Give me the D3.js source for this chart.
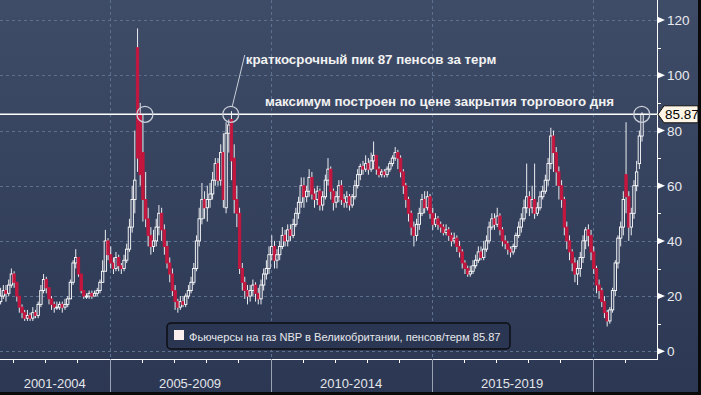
<!DOCTYPE html>
<html>
<head>
<meta charset="utf-8">
<script src="https://cdn.jsdelivr.net/npm/d3@7"></script>
<style>
body { margin: 0; background: #2c3955; }
svg text { font-family: "Liberation Sans", Arial, sans-serif; }
</style>
</head>
<body>
<div id="chart"></div>
<script>
// monthly candles, Aug 2001 .. Jul 2021 (pence/therm)
var firstMonth = new Date(2001, 7, 15);

var opens = [
  18, 20, 22, 21, 24,
  28, 25, 20, 16, 14, 12, 13, 12, 14, 13, 17, 22,
  26, 23, 19, 17, 16, 16, 17, 16, 17, 19, 25, 32,
  34, 28, 22, 20, 20, 21, 20, 21, 22, 25, 29, 40,
  35, 32, 30, 34, 31, 30, 33, 37, 45, 55, 110, 86,
  72, 55, 48, 42, 38, 40, 45, 50, 44, 38, 32, 28,
  22, 18, 16, 18, 17, 20, 22, 25, 30, 40, 48, 55,
  52, 55, 57, 62, 68, 62, 72, 52, 79, 84, 70, 55,
  50, 30, 25, 22, 20, 22, 24, 21, 19, 24, 28, 30,
  35, 38, 33, 35, 38, 42, 40, 44, 42, 46, 50, 54,
  60, 56, 58, 63, 57, 55, 58, 53, 56, 62, 66, 58,
  54, 56, 60, 55, 54, 56, 53, 56, 60, 64, 67, 66,
  68, 66, 69, 71, 66, 64, 65, 64, 66, 68, 70, 72,
  70, 65, 60, 55, 50, 45, 42, 46, 50, 55, 52, 56,
  50, 46, 48, 46, 45, 43, 44, 42, 40, 41, 38, 36,
  32, 30, 28, 29, 31, 33, 36, 34, 37, 40, 45, 48,
  46, 49, 44, 40, 39, 37, 36, 38, 42, 45, 48, 52,
  56, 52, 55, 50, 52, 56, 58, 62, 68, 78, 72, 65,
  60, 55, 45, 40, 36, 32, 28, 30, 34, 40, 44, 42,
  36, 30, 24, 22, 18, 14, 11, 15, 22, 32, 41, 45,
  64, 56, 45, 50, 60, 68, 78
];
var highs = [
  23, 24, 24, 26, 30,
  29, 25, 20, 17, 15, 15, 14, 16, 15, 18, 24, 28,
  27, 23, 20, 18, 18, 18, 18, 19, 20, 26, 33, 37,
  34, 28, 22, 21, 22, 22, 22, 23, 26, 33, 44, 41,
  38, 34, 36, 35, 32, 35, 39, 48, 60, 80, 117, 90,
  86, 65, 52, 45, 44, 48, 53, 52, 46, 40, 34, 30,
  24, 19, 20, 20, 21, 24, 27, 32, 42, 52, 61, 58,
  60, 61, 65, 70, 70, 75, 79, 83, 84, 87, 75, 60,
  52, 32, 27, 24, 24, 26, 25, 23, 26, 30, 33, 38,
  42, 40, 37, 40, 45, 44, 46, 46, 48, 52, 56, 63,
  63, 60, 66, 65, 59, 60, 59, 58, 64, 70, 67, 59,
  58, 62, 62, 57, 58, 57, 57, 62, 66, 68, 69, 71,
  70, 72, 76, 71, 67, 66, 66, 67, 69, 71, 74, 73,
  71, 66, 61, 56, 51, 47, 48, 52, 57, 58, 58, 57,
  52, 50, 49, 47, 46, 46, 45, 43, 43, 42, 40, 37,
  33, 31, 31, 33, 35, 38, 38, 40, 42, 47, 50, 50,
  52, 50, 45, 42, 40, 38, 39, 43, 47, 50, 55, 68,
  58, 60, 68, 54, 58, 60, 64, 70, 81, 80, 74, 67,
  62, 56, 47, 42, 37, 34, 33, 36, 42, 45, 46, 44,
  38, 31, 26, 23, 20, 15, 16, 23, 33, 42, 47, 58,
  83, 58, 52, 62, 69, 80, 86.6
];
var lows = [
  17, 19, 18, 20, 23,
  23, 18, 14, 12, 11, 11, 11, 11, 12, 12, 16, 21,
  21, 17, 15, 14, 15, 15, 14, 15, 16, 19, 24, 30,
  27, 21, 19, 19, 19, 19, 20, 20, 21, 25, 30, 33,
  30, 28, 29, 29, 28, 29, 32, 36, 43, 50, 65, 60,
  47, 45, 38, 35, 36, 38, 42, 40, 35, 30, 25, 20,
  15, 14, 15, 16, 16, 19, 21, 24, 29, 38, 46, 48,
  47, 52, 55, 60, 60, 60, 52, 50, 72, 62, 50, 45,
  28, 22, 19, 17, 18, 20, 18, 17, 17, 22, 26, 28,
  33, 30, 30, 33, 37, 38, 38, 40, 41, 45, 48, 52,
  52, 54, 56, 55, 52, 53, 51, 51, 55, 60, 55, 51,
  52, 54, 53, 52, 52, 51, 52, 55, 59, 62, 64, 65,
  64, 65, 66, 64, 63, 63, 63, 63, 65, 67, 69, 66,
  63, 57, 52, 47, 42, 38, 40, 44, 49, 50, 51, 48,
  44, 45, 44, 43, 42, 42, 40, 38, 39, 36, 34, 30,
  28, 27, 27, 28, 30, 32, 33, 33, 36, 39, 44, 44,
  45, 42, 38, 37, 35, 34, 35, 37, 41, 43, 47, 50,
  49, 50, 48, 49, 51, 55, 57, 60, 66, 65, 60, 55,
  52, 42, 37, 33, 29, 25, 24, 27, 32, 37, 38, 33,
  28, 21, 19, 16, 12, 9, 10, 14, 20, 30, 38, 42,
  50, 40, 42, 48, 58, 66, 76
];
var closes = [
  20, 22, 21, 24, 28,
  25, 20, 16, 14, 12, 13, 12, 14, 13, 17, 22, 26,
  23, 19, 17, 16, 16, 17, 16, 17, 19, 25, 32, 34,
  28, 22, 20, 20, 21, 20, 21, 22, 25, 29, 40, 35,
  32, 30, 34, 31, 30, 33, 37, 45, 55, 62, 70, 64,
  55, 48, 42, 38, 40, 45, 50, 44, 38, 32, 28, 22,
  18, 16, 18, 17, 20, 22, 25, 30, 40, 48, 55, 52,
  55, 57, 62, 68, 62, 72, 55, 79, 82, 69, 55, 50,
  30, 25, 22, 20, 22, 24, 21, 19, 24, 28, 30, 35,
  38, 33, 35, 38, 42, 40, 44, 42, 46, 50, 54, 60,
  56, 58, 63, 57, 55, 58, 53, 56, 62, 66, 58, 54,
  56, 60, 55, 54, 56, 53, 56, 60, 64, 67, 66, 68,
  66, 69, 71, 66, 64, 65, 64, 66, 68, 70, 72, 70,
  65, 60, 55, 50, 45, 42, 46, 50, 55, 52, 56, 50,
  46, 48, 46, 45, 43, 44, 42, 40, 41, 38, 36, 32,
  30, 28, 29, 31, 33, 36, 34, 37, 40, 45, 48, 46,
  49, 44, 40, 39, 37, 36, 38, 42, 45, 48, 52, 56,
  52, 55, 50, 52, 56, 58, 62, 68, 78, 72, 65, 60,
  55, 45, 40, 36, 32, 28, 30, 34, 40, 44, 42, 36,
  30, 24, 22, 18, 14, 11, 15, 22, 32, 41, 45, 55,
  56, 45, 50, 60, 65, 78, 85.87
];

var yTicks = [0, 20, 40, 60, 80, 100, 120];
var yMinorTicks = [10, 30, 50, 70, 90, 110];
var periodLabels = ["2001-2004", "2005-2009", "2010-2014", "2015-2019", ""];
var periodStarts = [2001, 2005, 2010, 2015, 2020];

var lastValue = 85.87;
var circleDates = [new Date(2006, 1, 7), new Date(2008, 9, 7), new Date(2021, 6, 12)];
var noteShort = "краткосрочный пик 87 пенсов за терм";
var noteMax = "максимум построен по цене закрытия торгового дня";
var legendText = "Фьючерсы на газ NBP в Великобритании, пенсов/терм";

var width = 701;
var height = 395;
var plotRight = 657;
var plotBottom = 359;

var months = closes.map(function(c, i) { return d3.timeMonth.offset(firstMonth, i); });
var candles = months.map(function(m, i) {
  return {date: m, o: opens[i], h: highs[i], l: lows[i], c: closes[i]};
});

var svg = d3.select("#chart")
    .append("svg")
    .attr("width", width)
    .attr("height", height);

var grad = svg.append("defs").append("linearGradient")
    .attr("id", "bg")
    .attr("x1", 0).attr("y1", 0).attr("x2", 0).attr("y2", 1);
grad.append("stop").attr("offset", "0%").attr("stop-color", "#3f4c68");
grad.append("stop").attr("offset", "100%").attr("stop-color", "#2b3753");

svg.append("rect")
    .attr("width", width)
    .attr("height", height)
    .attr("fill", "url(#bg)");

var x = d3.scaleTime()
    .domain([new Date(2001, 7, 8), new Date(2022, 0, 1)])
    .range([0, plotRight]);

var y = d3.scaleLinear()
    .domain([0, 120])
    .range([351.3, 20.1]);

// grid
svg.append("g").selectAll("line")
    .data(yTicks).enter()
    .append("line")
    .attr("x1", 0).attr("x2", plotRight)
    .attr("y1", function(d) { return Math.round(y(d)) + 0.5; })
    .attr("y2", function(d) { return Math.round(y(d)) + 0.5; })
    .attr("stroke", "#5d7090")
    .attr("stroke-dasharray", "3,3");

var bounds = periodStarts.slice(1);
svg.append("g").selectAll("line")
    .data(bounds).enter()
    .append("line")
    .attr("x1", function(d) { return Math.round(x(new Date(d, 0, 1))) + 0.5; })
    .attr("x2", function(d) { return Math.round(x(new Date(d, 0, 1))) + 0.5; })
    .attr("y1", 0).attr("y2", plotBottom)
    .attr("stroke", "#5d7090")
    .attr("stroke-dasharray", "3,3");

// candles
var cg = svg.append("g");
cg.selectAll("line")
    .data(candles).enter()
    .append("line")
    .attr("x1", function(d) { return x(d.date); })
    .attr("x2", function(d) { return x(d.date); })
    .attr("y1", function(d) { return y(d.h); })
    .attr("y2", function(d) { return y(d.l); })
    .attr("stroke", "#ffffff")
    .attr("stroke-width", 0.9);

cg.selectAll("rect")
    .data(candles).enter()
    .append("rect")
    .attr("x", function(d) { return x(d.date) - 1.2; })
    .attr("width", 2.4)
    .attr("y", function(d) { return y(Math.max(d.o, d.c)); })
    .attr("height", function(d) { return Math.max(1, Math.abs(y(d.o) - y(d.c))); })
    .attr("fill", function(d) { return d.c >= d.o ? "#38445f" : "#c4163e"; })
    .attr("stroke", function(d) { return d.c >= d.o ? "#ffffff" : "#c4163e"; })
    .attr("stroke-width", 0.9);

// level line + circles
svg.append("line")
    .attr("x1", 0).attr("x2", plotRight)
    .attr("y1", y(lastValue)).attr("y2", y(lastValue))
    .attr("stroke", "#ffffff")
    .attr("stroke-width", 1.5);

svg.append("g").selectAll("circle")
    .data(circleDates).enter()
    .append("circle")
    .attr("cx", function(d) { return x(d); })
    .attr("cy", y(lastValue))
    .attr("r", 8)
    .attr("fill", "none")
    .attr("stroke", "#c9ced8")
    .attr("stroke-width", 1.3);

var c2 = x(circleDates[1]);
svg.append("line")
    .attr("x1", c2 + 1.5).attr("y1", y(lastValue) - 8)
    .attr("x2", c2 + 14).attr("y2", 55)
    .attr("stroke", "#c9ced8")
    .attr("stroke-width", 1);

svg.append("text")
    .attr("x", c2 + 15).attr("y", 64)
    .attr("fill", "#f2f2f2")
    .attr("font-size", 13.3)
    .attr("font-weight", "bold")
    .text(noteShort);

svg.append("text")
    .attr("x", 265).attr("y", 106)
    .attr("fill", "#f2f2f2")
    .attr("font-size", 13.3)
    .attr("font-weight", "bold")
    .text(noteMax);

// right axis
svg.append("line")
    .attr("x1", plotRight + 0.5).attr("x2", plotRight + 0.5)
    .attr("y1", 0).attr("y2", plotBottom)
    .attr("stroke", "#ffffff");

svg.append("g").selectAll("path")
    .data(yTicks).enter()
    .append("path")
    .attr("d", function(d) {
      var ty = y(d);
      return "M" + plotRight + "," + (ty - 3.5) + "L" + (plotRight + 8) + "," + ty + "L" + plotRight + "," + (ty + 3.5) + "Z";
    })
    .attr("fill", "#ffffff");

svg.append("g").selectAll("line")
    .data(yMinorTicks).enter()
    .append("line")
    .attr("x1", plotRight).attr("x2", plotRight + 4)
    .attr("y1", function(d) { return Math.round(y(d)) + 0.5; })
    .attr("y2", function(d) { return Math.round(y(d)) + 0.5; })
    .attr("stroke", "#ffffff");

svg.append("g").selectAll("text")
    .data(yTicks).enter()
    .append("text")
    .attr("x", 667)
    .attr("y", function(d) { return y(d) + 5; })
    .attr("fill", "#e8eaee")
    .attr("font-size", 13.5)
    .text(function(d) { return d; });

// last value tag
var ly = y(lastValue);
svg.append("path")
    .attr("d", "M658," + ly + "L664," + (ly - 8.5) + "L698," + (ly - 8.5) + "L698," + (ly + 8.5) + "L664," + (ly + 8.5) + "Z")
    .attr("fill", "#fdf6e6")
    .attr("stroke", "#111111");
svg.append("text")
    .attr("x", 665).attr("y", ly + 5)
    .attr("fill", "#000000")
    .attr("font-size", 13.5)
    .text(d3.format(".2f")(lastValue));

// bottom axis
svg.append("line")
    .attr("x1", 0).attr("x2", plotRight + 1)
    .attr("y1", plotBottom + 0.5).attr("y2", plotBottom + 0.5)
    .attr("stroke", "#ffffff");

var years = d3.range(2002, 2022).filter(function(yr) { return periodStarts.indexOf(yr) < 0; });
svg.append("g").selectAll("line")
    .data(years).enter()
    .append("line")
    .attr("x1", function(d) { return Math.round(x(new Date(d, 0, 1))) + 0.5; })
    .attr("x2", function(d) { return Math.round(x(new Date(d, 0, 1))) + 0.5; })
    .attr("y1", plotBottom).attr("y2", plotBottom + 4)
    .attr("stroke", "#ffffff");

svg.append("g").selectAll("line")
    .data(bounds).enter()
    .append("line")
    .attr("x1", function(d) { return Math.round(x(new Date(d, 0, 1))) + 0.5; })
    .attr("x2", function(d) { return Math.round(x(new Date(d, 0, 1))) + 0.5; })
    .attr("y1", plotBottom).attr("y2", height)
    .attr("stroke", "#9aa3b4");

svg.append("g").selectAll("text")
    .data(periodLabels).enter()
    .append("text")
    .attr("x", function(d, i) {
      var a = Math.max(0, x(new Date(periodStarts[i], 0, 1)));
      var b = i < periodStarts.length - 1 ? x(new Date(periodStarts[i + 1], 0, 1)) : plotRight;
      return (a + b) / 2;
    })
    .attr("y", 388)
    .attr("text-anchor", "middle")
    .attr("fill", "#e4e6ea")
    .attr("font-size", 13)
    .text(function(d) { return d; });

// legend
svg.append("rect")
    .attr("x", 167).attr("y", 323)
    .attr("width", 343).attr("height", 26)
    .attr("rx", 4)
    .attr("fill", "#2b3652")
    .attr("stroke", "#0c0e12")
    .attr("stroke-width", 1.5);
svg.append("rect")
    .attr("x", 174).attr("y", 330)
    .attr("width", 10).attr("height", 10)
    .attr("fill", "#fbeeee");
svg.append("text")
    .attr("x", 189).attr("y", 340.5)
    .attr("fill", "#e6e8ec")
    .attr("font-size", 11.1)
    .text(legendText + " " + d3.format(".2f")(lastValue));

// frame
svg.append("rect")
    .attr("x", 698).attr("y", 0)
    .attr("width", 3).attr("height", height)
    .attr("fill", "#0a0a0a");
svg.append("rect")
    .attr("x", 0).attr("y", 392)
    .attr("width", width).attr("height", 3)
    .attr("fill", "#0a0a0a");
</script>
</body>
</html>
